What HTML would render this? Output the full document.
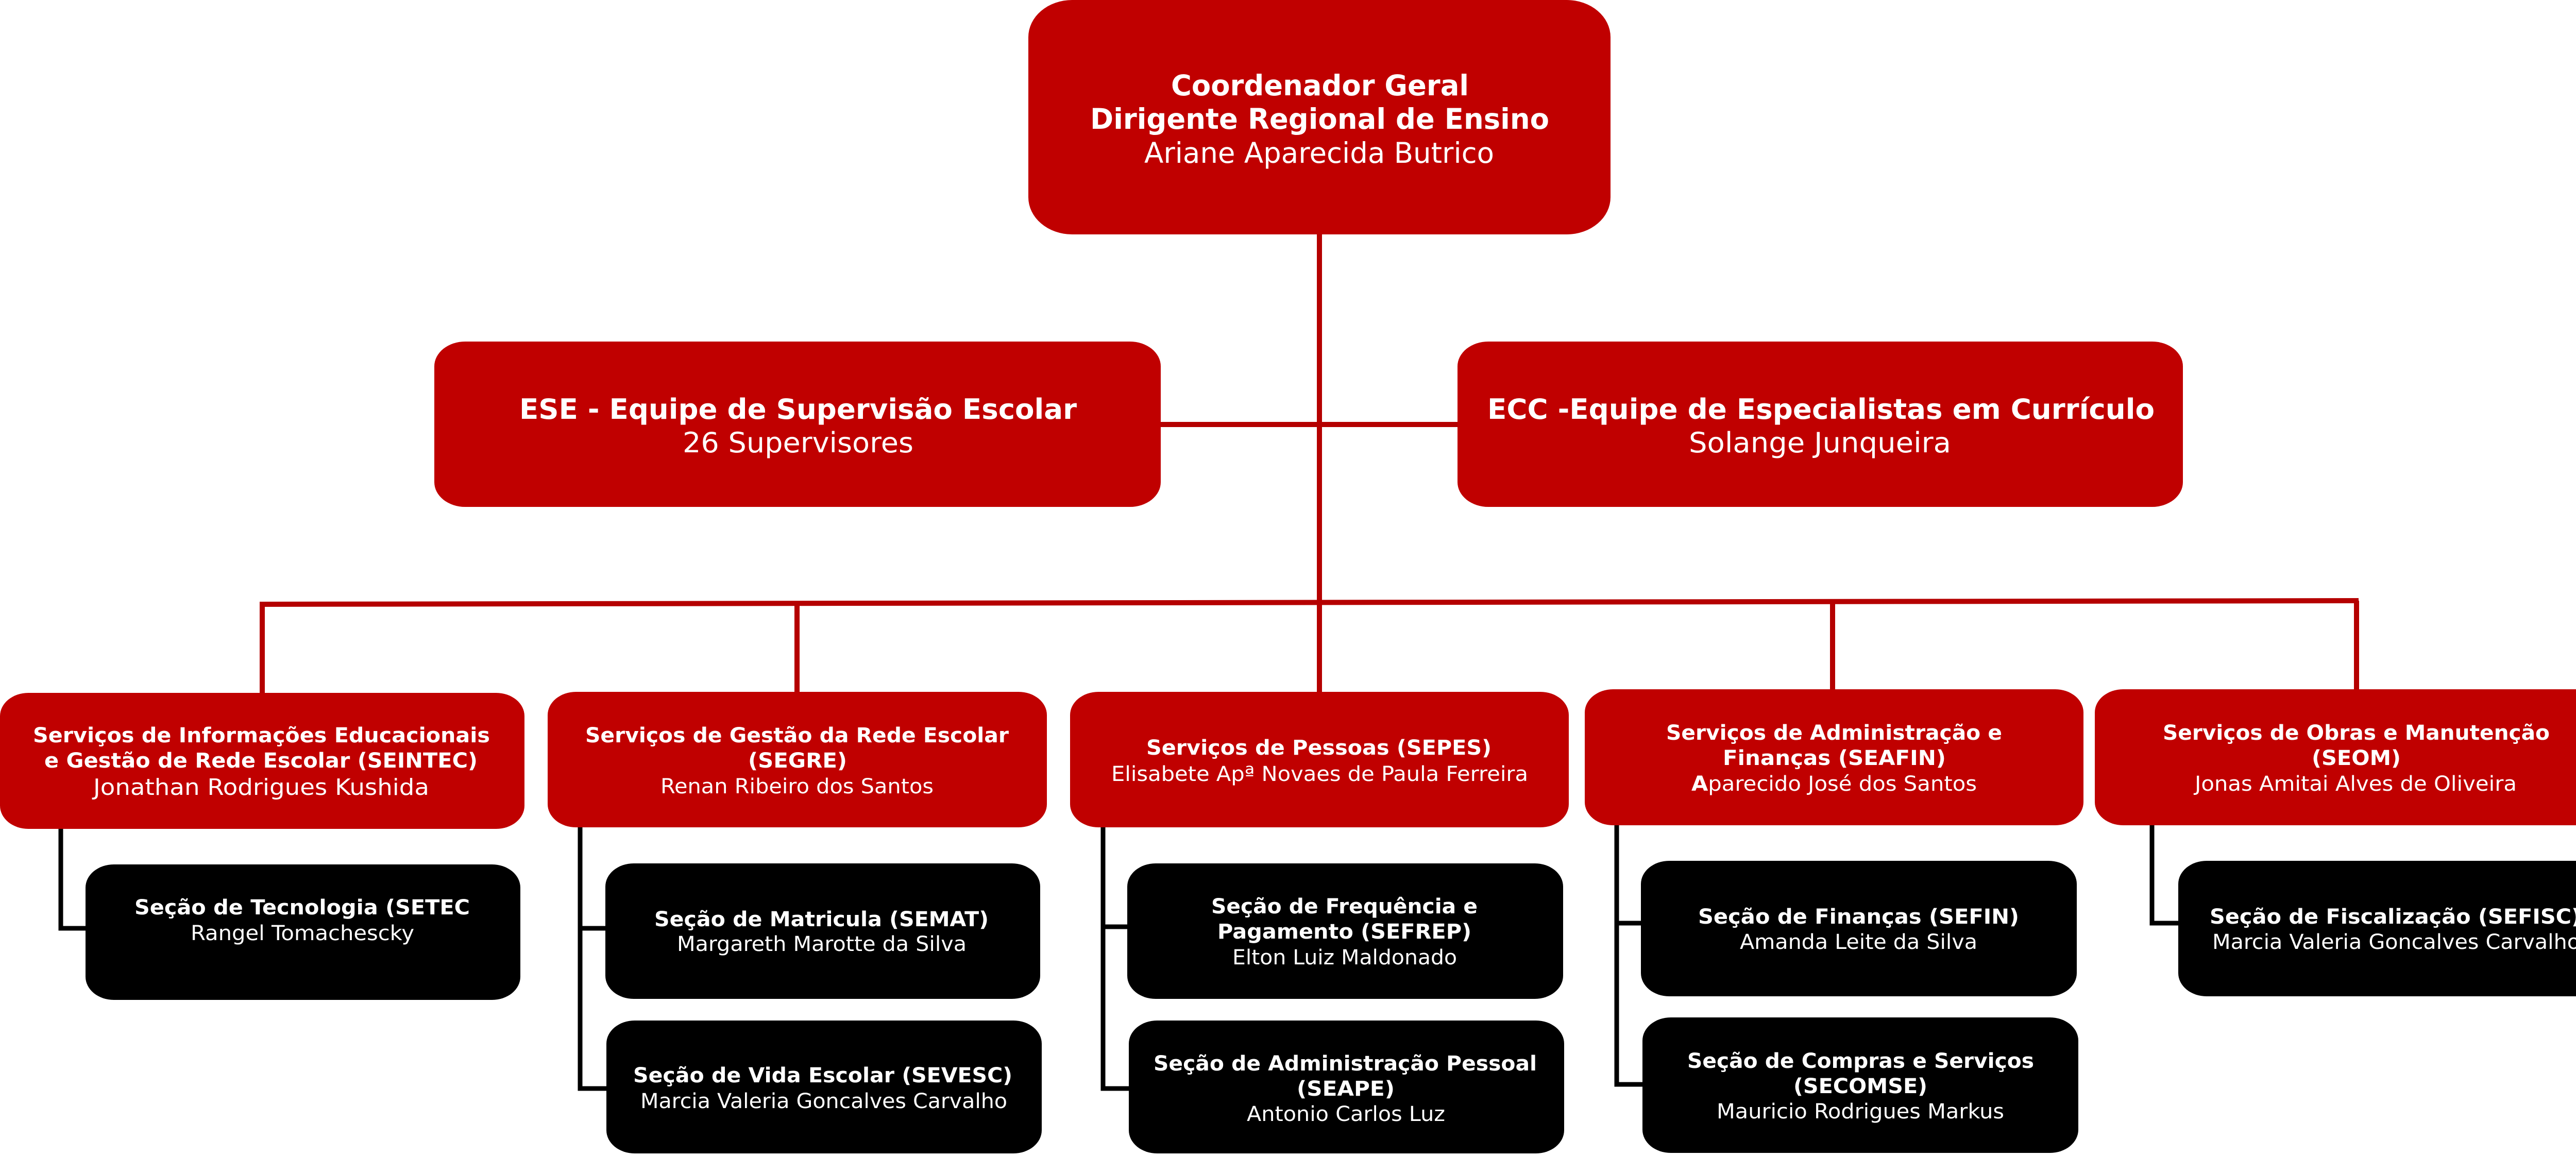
<!DOCTYPE html>
<html><head><meta charset="utf-8"><style>
html,body{margin:0;padding:0;background:#fff}
svg{display:block}
text{font-family:"DejaVu Sans","Liberation Sans",sans-serif;fill:#fff}
.b{font-weight:bold}
</style></head><body>
<svg width="5084" height="2244" viewBox="0 0 5084 2244" xmlns="http://www.w3.org/2000/svg">
<g stroke="#b50000" stroke-width="10" fill="none">
<line x1="2561" y1="450" x2="2561" y2="1345"/>
<line x1="2253" y1="824" x2="2829" y2="824"/>
<polyline points="509,1345 509,1173 4578,1166" stroke-width="10"/>
<line x1="1547" y1="1172" x2="1547" y2="1345"/>
<line x1="3557" y1="1168" x2="3557" y2="1340"/>
<line x1="4574" y1="1166" x2="4574" y2="1340"/>
</g>
<g stroke="#000" stroke-width="9" fill="none">
<polyline points="118,1605 118,1802 170,1802"/>
<polyline points="1126,1602 1126,2113 1180,2113"/>
<line x1="1126" y1="1802" x2="1180" y2="1802"/>
<polyline points="2141,1602 2141,2113 2194,2113"/>
<line x1="2141" y1="1799" x2="2192" y2="1799"/>
<polyline points="3138,1598 3138,2105 3190,2105"/>
<line x1="3138" y1="1792" x2="3188" y2="1792"/>
<polyline points="4177,1598 4177,1792 4232,1792"/>
</g>
<g fill="#c00000">
<rect x="1996" y="0" width="1130" height="455" rx="85" ry="72"/>
<rect x="843" y="663" width="1410" height="321" rx="60" ry="48"/>
<rect x="2829" y="663" width="1408" height="321" rx="60" ry="48"/>
<rect x="0" y="1345" width="1018" height="264" rx="55" ry="45"/>
<rect x="1063" y="1343" width="969" height="263" rx="55" ry="45"/>
<rect x="2077" y="1343" width="968" height="263" rx="55" ry="45"/>
<rect x="3076" y="1338" width="968" height="264" rx="55" ry="45"/>
<rect x="4066" y="1338" width="1017" height="264" rx="55" ry="45"/>
</g>
<g fill="#000">
<rect x="166" y="1678" width="844" height="263" rx="55" ry="45"/>
<rect x="1175" y="1676" width="844" height="263" rx="55" ry="45"/>
<rect x="1177" y="1981" width="845" height="258" rx="55" ry="45"/>
<rect x="2188" y="1676" width="846" height="263" rx="55" ry="45"/>
<rect x="2191" y="1981" width="845" height="258" rx="55" ry="45"/>
<rect x="3185" y="1671" width="846" height="263" rx="55" ry="45"/>
<rect x="3188" y="1975" width="846" height="263" rx="55" ry="45"/>
<rect x="4228" y="1671" width="845" height="263" rx="55" ry="45"/>
</g>
<g lengthAdjust="spacingAndGlyphs">
<text class="b" x="2273" y="185" font-size="55" textLength="578" lengthAdjust="spacingAndGlyphs">Coordenador Geral</text>
<text class="b" x="2116" y="250" font-size="55" textLength="891" lengthAdjust="spacingAndGlyphs">Dirigente Regional de Ensino</text>
<text x="2221" y="316" font-size="55" textLength="679" lengthAdjust="spacingAndGlyphs">Ariane Aparecida Butrico</text>

<text class="b" x="1008" y="813" font-size="54" textLength="1082" lengthAdjust="spacingAndGlyphs">ESE - Equipe de Supervisão Escolar</text>
<text x="1325" y="878" font-size="54" textLength="448" lengthAdjust="spacingAndGlyphs">26 Supervisores</text>
<text class="b" x="2887" y="813" font-size="54" textLength="1295" lengthAdjust="spacingAndGlyphs">ECC -Equipe de Especialistas em Currículo</text>
<text x="3278" y="878" font-size="54" textLength="509" lengthAdjust="spacingAndGlyphs">Solange Junqueira</text>

<text class="b" x="64" y="1441" font-size="40" textLength="887" lengthAdjust="spacingAndGlyphs">Serviços de Informações Educacionais</text>
<text class="b" x="86" y="1490" font-size="40" textLength="841" lengthAdjust="spacingAndGlyphs">e Gestão de Rede Escolar (SEINTEC)</text>
<text x="181" y="1543" font-size="44" textLength="652" lengthAdjust="spacingAndGlyphs">Jonathan Rodrigues Kushida</text>

<text class="b" x="1136" y="1441" font-size="40" textLength="822" lengthAdjust="spacingAndGlyphs">Serviços de Gestão da Rede Escolar</text>
<text class="b" x="1452" y="1490" font-size="40" textLength="192" lengthAdjust="spacingAndGlyphs">(SEGRE)</text>
<text x="1282" y="1540" font-size="40" textLength="530" lengthAdjust="spacingAndGlyphs">Renan Ribeiro dos Santos</text>

<text class="b" x="2225" y="1465" font-size="40" textLength="670" lengthAdjust="spacingAndGlyphs">Serviços de Pessoas (SEPES)</text>
<text x="2157" y="1516" font-size="40" textLength="809" lengthAdjust="spacingAndGlyphs">Elisabete Apª Novaes de Paula Ferreira</text>

<text class="b" x="3234" y="1436" font-size="40" textLength="652" lengthAdjust="spacingAndGlyphs">Serviços de Administração e</text>
<text class="b" x="3344" y="1485" font-size="40" textLength="433" lengthAdjust="spacingAndGlyphs">Finanças (SEAFIN)</text>
<text x="3283" y="1535" font-size="40" textLength="554" lengthAdjust="spacingAndGlyphs"><tspan font-weight="bold">A</tspan>parecido José dos Santos</text>

<text class="b" x="4198" y="1436" font-size="40" textLength="751" lengthAdjust="spacingAndGlyphs">Serviços de Obras e Manutenção</text>
<text class="b" x="4487" y="1485" font-size="40" textLength="173" lengthAdjust="spacingAndGlyphs">(SEOM)</text>
<text x="4260" y="1535" font-size="40" textLength="625" lengthAdjust="spacingAndGlyphs">Jonas Amitai Alves de Oliveira</text>

<text class="b" x="261" y="1775" font-size="40" textLength="651" lengthAdjust="spacingAndGlyphs">Seção de Tecnologia (SETEC</text>
<text x="370" y="1825" font-size="40" textLength="434" lengthAdjust="spacingAndGlyphs">Rangel Tomachescky</text>

<text class="b" x="1270" y="1798" font-size="40" textLength="649" lengthAdjust="spacingAndGlyphs">Seção de Matricula (SEMAT)</text>
<text x="1314" y="1846" font-size="40" textLength="562" lengthAdjust="spacingAndGlyphs">Margareth Marotte da Silva</text>

<text class="b" x="1229" y="2101" font-size="40" textLength="736" lengthAdjust="spacingAndGlyphs">Seção de Vida Escolar (SEVESC)</text>
<text x="1243" y="2151" font-size="40" textLength="712" lengthAdjust="spacingAndGlyphs">Marcia Valeria Goncalves Carvalho</text>

<text class="b" x="2351" y="1773" font-size="40" textLength="517" lengthAdjust="spacingAndGlyphs">Seção de Frequência e</text>
<text class="b" x="2363" y="1822" font-size="40" textLength="493" lengthAdjust="spacingAndGlyphs">Pagamento (SEFREP)</text>
<text x="2392" y="1872" font-size="40" textLength="436" lengthAdjust="spacingAndGlyphs">Elton Luiz Maldonado</text>

<text class="b" x="2239" y="2078" font-size="40" textLength="744" lengthAdjust="spacingAndGlyphs">Seção de Administração Pessoal</text>
<text class="b" x="2517" y="2127" font-size="40" textLength="190" lengthAdjust="spacingAndGlyphs">(SEAPE)</text>
<text x="2420" y="2176" font-size="40" textLength="385" lengthAdjust="spacingAndGlyphs">Antonio Carlos Luz</text>

<text class="b" x="3296" y="1793" font-size="40" textLength="623" lengthAdjust="spacingAndGlyphs">Seção de Finanças (SEFIN)</text>
<text x="3377" y="1842" font-size="40" textLength="461" lengthAdjust="spacingAndGlyphs">Amanda Leite da Silva</text>

<text class="b" x="3275" y="2073" font-size="40" textLength="673" lengthAdjust="spacingAndGlyphs">Seção de Compras e Serviços</text>
<text class="b" x="3481" y="2122" font-size="40" textLength="260" lengthAdjust="spacingAndGlyphs">(SECOMSE)</text>
<text x="3332" y="2171" font-size="40" textLength="558" lengthAdjust="spacingAndGlyphs">Mauricio Rodrigues Markus</text>

<text class="b" x="4289" y="1793" font-size="40" textLength="721" lengthAdjust="spacingAndGlyphs">Seção de Fiscalização (SEFISC)</text>
<text x="4294" y="1842" font-size="40" textLength="714" lengthAdjust="spacingAndGlyphs">Marcia Valeria Goncalves Carvalho</text>
</g>
</svg>
</body></html>
